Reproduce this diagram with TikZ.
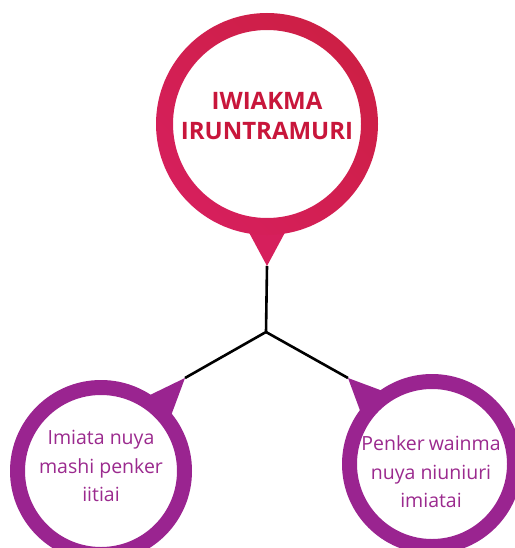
\documentclass[tikz,border=0pt]{standalone}
\usepackage{fontspec}
\setmainfont{Open Sans}
\usetikzlibrary{calc}
\definecolor{topred}{HTML}{CD1F45}
\definecolor{toppink}{HTML}{D61F5C}
\definecolor{ringpurple}{HTML}{9A2490}
\definecolor{txtpurple}{HTML}{9B2A8E}
\definecolor{txtred}{HTML}{C8163B}
\tikzset{
  link/.style={draw=black, line width=2.6pt},
  toptext/.style={align=center, text=txtred, font=\fontsize{24}{30}\selectfont\bfseries, inner sep=0pt},
  subtext/.style={align=center, text=txtpurple, font=\fontsize{19.5}{28.5}\selectfont, inner sep=0pt},
}
\begin{document}
\begin{tikzpicture}[x=1pt, y=-1pt]
\useasboundingbox (0,0) rectangle (514,548);
% centres
\coordinate (tc) at (267,124);
\coordinate (lc) at (101,471);
\coordinate (rc) at (432,464);
% pin tips and junction
\coordinate (ttip) at (267,266);
\coordinate (ltip) at (185,378);
\coordinate (rtip) at (348,378);
\coordinate (j) at (266,332);
% connectors
\draw[link] (ttip) -- (j) -- (ltip);
\draw[link] (j) -- (rtip);
% top pin
\fill[toppink] ($(tc)+(-102:104pt)$) -- (ttip) -- ($(tc)+(-78:104pt)$) -- cycle;
\path[even odd rule, left color=toppink, right color=topred, shading angle=135]
  (tc) circle (111pt) circle (94pt);
% left pin
\fill[ringpurple] ($(lc)+(59:86pt)$) -- (ltip) -- ($(lc)+(37:86pt)$) -- cycle;
\fill[ringpurple, even odd rule] (lc) circle (91pt) circle (76pt);
% right pin
\fill[ringpurple] ($(rc)+(145:86pt)$) -- (rtip) -- ($(rc)+(123:86pt)$) -- cycle;
\fill[ringpurple, even odd rule] (rc) circle (90pt) circle (75pt);
% texts
\node[toptext] (top) at (267,116) {IWIAKMA\\IRUNTRAMURI};
\node[subtext] (left) at (101,466) {Imiata nuya\\mashi penker\\iitiai};
\node[subtext] (right) at (431,472) {Penker\hspace{4pt}wainma\\nuya niuniuri\\imiatai};
\end{tikzpicture}
\end{document}
